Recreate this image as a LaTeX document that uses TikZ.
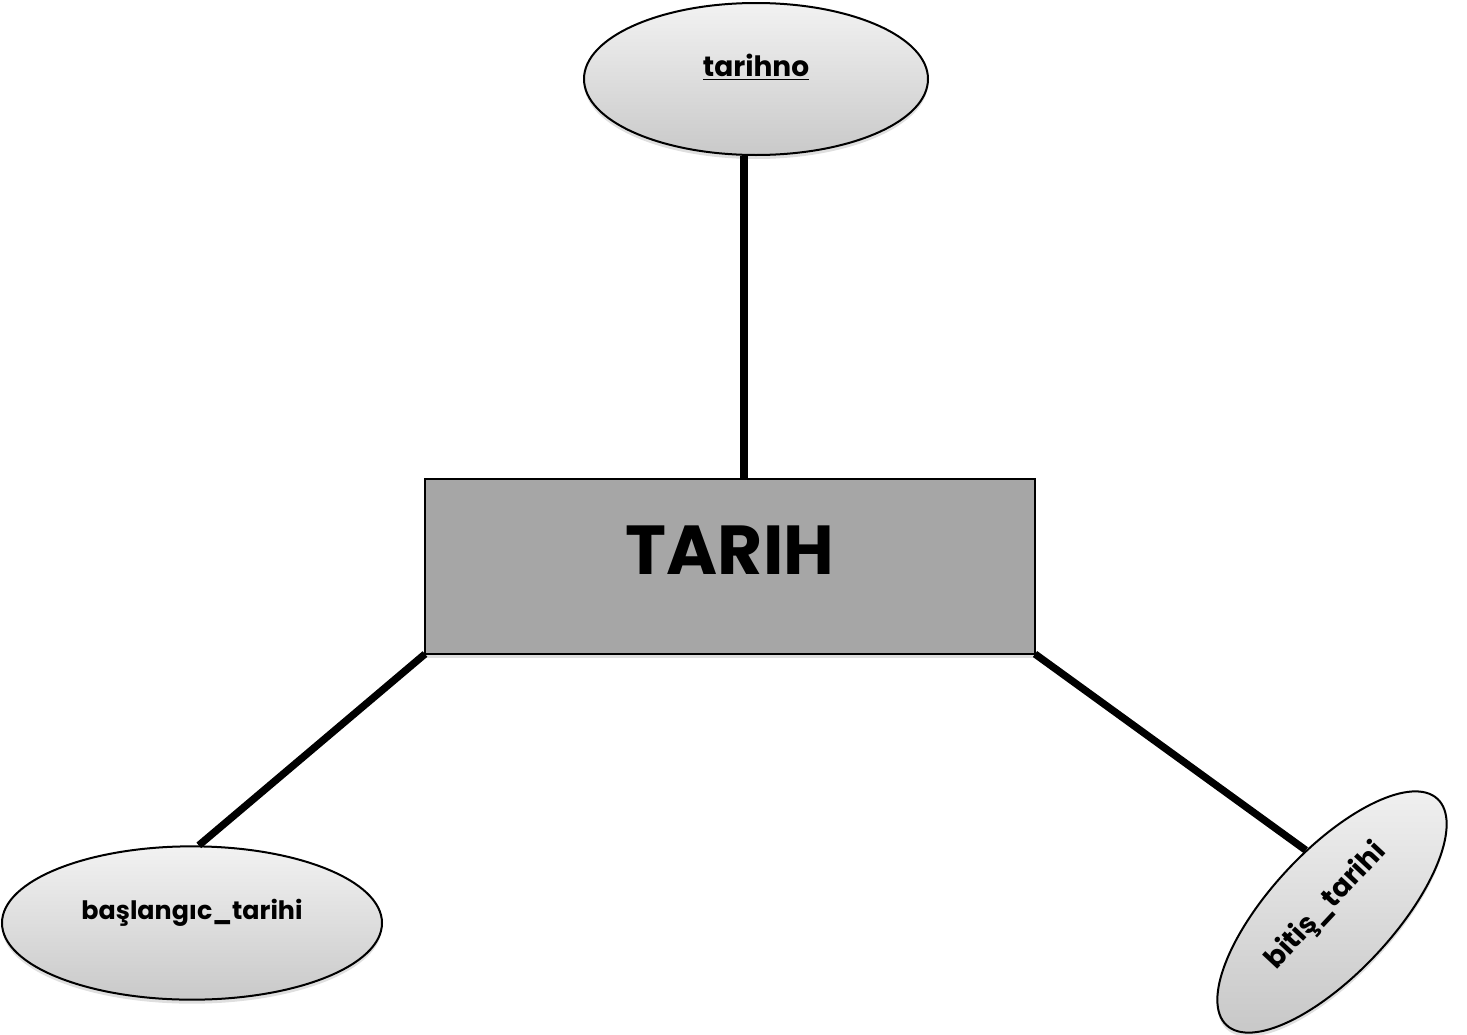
\documentclass[tikz,border=0pt]{standalone}
\usepackage{fontspec}
\setmainfont{Poppins}
\usetikzlibrary{shapes.geometric,shadows}
\definecolor{boxgray}{HTML}{A6A6A6}
\definecolor{elltop}{HTML}{F2F2F2}
\definecolor{ellbot}{HTML}{C9C9C9}
\tikzset{
  attr/.style={ellipse, draw=black, line width=1.5pt, top color=elltop, bottom color=ellbot,
    drop shadow={opacity=0.25, shadow xshift=0pt, shadow yshift=-3pt},
    font=\bfseries\fontsize{19}{22}\selectfont, inner sep=0pt},
  entity/.style={rectangle, draw=black, line width=1pt, fill=boxgray,
    drop shadow={opacity=0.25, shadow xshift=0pt, shadow yshift=-3pt},
    font=\bfseries\fontsize{52}{60}\selectfont, inner sep=0pt},
  conn/.style={line width=5.5pt, black}
}
\begin{document}
\begin{tikzpicture}[x=0.75pt,y=-0.75pt]
\useasboundingbox (0,0) rectangle (1467,1035);
\node[entity, minimum width=457.5pt, minimum height=131.25pt] (tarih) at (730,566.5) {\raisebox{24pt}{TARIH}};
\node[attr, minimum width=258pt, minimum height=114pt, font=\bfseries\fontsize{21}{24}\selectfont] (tno) at (756,79) {\raisebox{20pt}{\underline{tarihno}}};
\node[attr, minimum width=285pt, minimum height=115pt] (bas) at (192,923) {\raisebox{20pt}{başlangıc\_tarihi}};
\node[attr, minimum width=232pt, minimum height=92pt, rotate=47, font=\bfseries\fontsize{21}{24}\selectfont] (bit) at (1332,912) {\raisebox{18pt}{bitiş\_tarihi}};
\coordinate (ttop) at (744,479);
\coordinate (tbl) at (425,654);
\coordinate (tbr) at (1035,654);
\draw[conn] (tno.south -| ttop) -- (ttop);
\draw[conn] (tbl) -- (bas.85);
\draw[conn] (tbr) -- (bit.66);
\end{tikzpicture}
\end{document}
